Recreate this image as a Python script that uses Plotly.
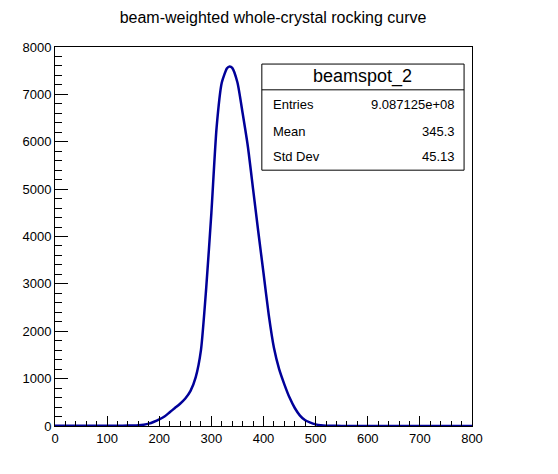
import plotly.graph_objects as go

# values
angle = [0, 20, 40, 60, 80, 100, 120, 140, 150, 160, 170, 180, 190, 200, 210, 220,
         230, 240, 250, 260, 270, 280, 290, 300, 310, 320, 330, 335, 340, 350,
         360, 370, 380, 390, 400, 410, 420, 430, 440, 450, 460, 470, 480, 490,
         500, 510, 520, 540, 560, 580, 600, 650, 700, 750, 800]
counts = [3, 3, 4, 4, 5, 5, 6, 8, 10, 15, 28, 50, 90, 140, 200, 290,
          380, 470, 580, 740, 1030, 1600, 2900, 4500, 6300, 7250, 7550, 7590, 7560, 7250,
          6600, 5900, 5000, 4100, 3230, 2350, 1650, 1200, 880, 600, 380, 220, 120, 70,
          35, 15, 6, 3, 2, 2, 1, 1, 1, 1, 1]

stat_title = "beamspot_2"
stat_names = ["Entries", "Mean", "Std Dev"]
stat_values = ["9.087125e+08", "345.3", "45.13"]

fig = go.Figure()
fig.add_trace(go.Scatter(x=angle, y=counts, mode="lines",
                         line=dict(color="#000099", width=2.5, shape="spline", smoothing=0.6),
                         showlegend=False, hoverinfo="skip"))

font = "Liberation Sans, Arial, Helvetica, sans-serif"

# page body adds 8px, so margins are shifted
fig.update_layout(
    width=558, height=474,
    margin=dict(l=47, r=94, t=39, b=56),
    paper_bgcolor="white", plot_bgcolor="white",
    font=dict(family=font, size=13, color="black"),
    title=dict(text="beam-weighted whole-crystal rocking curve", x=0.475, xanchor="center",
               y=0.98, yanchor="middle", font=dict(size=16, color="black")),
)

fig.update_xaxes(range=[0, 800], dtick=100, showgrid=False, zeroline=False,
                 showline=True, linecolor="black", linewidth=1, mirror=True,
                 ticks="inside", ticklen=10, tickcolor="black",
                 minor=dict(ticks="inside", ticklen=5, dtick=20, tickcolor="black", showgrid=False),
                 tickfont=dict(size=13))
fig.update_yaxes(range=[0, 8000], dtick=1000, showgrid=False, zeroline=False,
                 showline=True, linecolor="black", linewidth=1, mirror=True,
                 ticks="inside", ticklen=13, tickcolor="black",
                 minor=dict(ticks="inside", ticklen=7, dtick=200, tickcolor="black", showgrid=False),
                 tickfont=dict(size=13))

# stats box
bx0, bx1, by0, by1, bsep = 0.496, 0.981, 0.675, 0.955, 0.887
fig.add_shape(type="rect", xref="paper", yref="paper", x0=bx0, x1=bx1, y0=by0, y1=by1,
              line=dict(color="black", width=1), fillcolor="white", layer="above")
fig.add_shape(type="line", xref="paper", yref="paper", x0=bx0, x1=bx1, y0=bsep, y1=bsep,
              line=dict(color="black", width=1), layer="above")
fig.add_annotation(xref="paper", yref="paper", x=(bx0 + bx1) / 2, y=(by1 + bsep) / 2,
                   text=stat_title, showarrow=False, font=dict(size=18),
                   xanchor="center", yanchor="middle")
row_y = [0.847, 0.778, 0.710]
for name, val, yy in zip(stat_names, stat_values, row_y):
    fig.add_annotation(xref="paper", yref="paper", x=0.518, y=yy, text=name,
                       showarrow=False, xanchor="left", yanchor="middle", font=dict(size=13))
    fig.add_annotation(xref="paper", yref="paper", x=0.963, y=yy, text=val,
                       showarrow=False, xanchor="right", yanchor="middle", font=dict(size=13))

fig.write_html("out.html")
